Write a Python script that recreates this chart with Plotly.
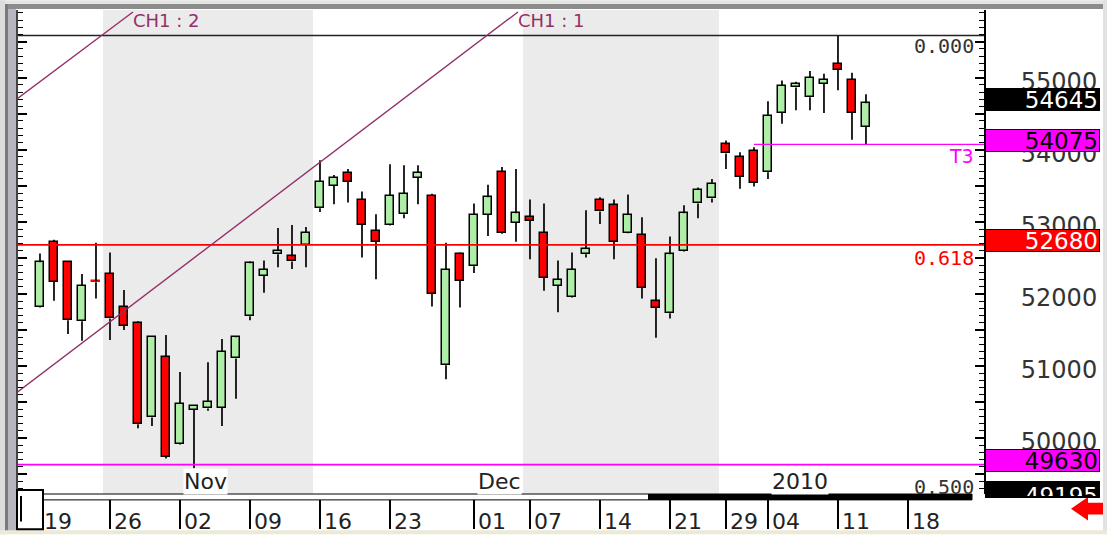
import plotly.graph_objects as go
import pandas as pd

# ---------------- data ----------------
dates = [
    '2009-10-19', '2009-10-20', '2009-10-21', '2009-10-22', '2009-10-23',
    '2009-10-26', '2009-10-27', '2009-10-28', '2009-10-29', '2009-10-30',
    '2009-11-02', '2009-11-03', '2009-11-04', '2009-11-05', '2009-11-06',
    '2009-11-09', '2009-11-10', '2009-11-11', '2009-11-12', '2009-11-13',
    '2009-11-16', '2009-11-17', '2009-11-18', '2009-11-19', '2009-11-20',
    '2009-11-23', '2009-11-24', '2009-11-25', '2009-11-26', '2009-11-27',
    '2009-11-30', '2009-12-01', '2009-12-02', '2009-12-03', '2009-12-04',
    '2009-12-07', '2009-12-08', '2009-12-09', '2009-12-10', '2009-12-11',
    '2009-12-14', '2009-12-15', '2009-12-16', '2009-12-17', '2009-12-18',
    '2009-12-21', '2009-12-22', '2009-12-23', '2009-12-24', '2009-12-29',
    '2009-12-30', '2009-12-31', '2010-01-04', '2010-01-05', '2010-01-06',
    '2010-01-07', '2010-01-08', '2010-01-11', '2010-01-12', '2010-01-13',
]
open_ = [51825, 52725, 52440, 51620, 52175, 52275, 51825, 51595, 50285, 51130,
         49920, 50395, 50410, 50420, 51105, 51690, 52250, 52550, 52520, 52685,
         53190, 53500, 53680, 53310, 52875, 52955, 53105, 53610, 53365, 51010,
         52550, 52385, 53095, 53690, 52985, 53065, 52845, 52110, 51960, 52550,
         53310, 53230, 52845, 52820, 51895, 51730, 52590, 53255, 53325, 54075,
         53895, 53990, 53690, 54510, 54865, 54730, 54920, 55190, 54975, 54320]
high = [52560, 52750, 52450, 52275, 52710, 52575, 52055, 51620, 51415, 51430,
        50915, 50450, 51050, 51375, 51415, 52450, 52465, 52915, 52955, 52930,
        53855, 53650, 53735, 53420, 53105, 53800, 53785, 53785, 53390, 52710,
        52575, 53255, 53515, 53760, 53735, 53310, 53255, 52465, 52575, 53160,
        53340, 53310, 53380, 53065, 52495, 52795, 53230, 53475, 53595, 54130,
        53965, 54035, 54675, 54960, 54945, 55095, 55055, 55586, 55070, 54770]
low = [51810, 51905, 51445, 51350, 51935, 51360, 51500, 50135, 50165, 49715,
       49910, 49580, 50380, 50165, 50545, 51635, 52015, 52370, 52345, 52370,
       53135, 53245, 53270, 52505, 52205, 52950, 53050, 53245, 51825, 50815,
       51810, 52290, 52805, 52835, 52725, 52480, 52045, 51745, 51950, 52505,
       52970, 52480, 52840, 51935, 51390, 51660, 52580, 53050, 53270, 53735,
       53460, 53490, 53595, 54360, 54550, 54550, 54510, 54825, 54140, 54075]
close = [52440, 52165, 51635, 52110, 52160, 51660, 51555, 50190, 51405, 49740,
         50475, 50445, 50505, 51200, 51400, 52425, 52330, 52600, 52450, 52845,
         53555, 53610, 53555, 52955, 52725, 53365, 53390, 53680, 52005, 52330,
         52180, 53095, 53340, 52845, 53120, 53010, 52220, 52195, 52330, 52630,
         53145, 52725, 53095, 52085, 51810, 52550, 53120, 53445, 53530, 53950,
         53625, 53540, 54470, 54890, 54920, 55000, 54975, 55110, 54510, 54645]

tick_dates = ['2009-10-19', '2009-10-26', '2009-11-02', '2009-11-09', '2009-11-16',
              '2009-11-23', '2009-12-01', '2009-12-07', '2009-12-14', '2009-12-21',
              '2009-12-29', '2010-01-04', '2010-01-11', '2010-01-18']
tick_labels = ['19', '26', '02', '09', '16', '23', '01', '07', '14', '21',
               '29', '04', '11', '18']
month_dates = ['2009-11-02', '2009-12-01', '2010-01-04']
month_labels = ['Nov', 'Dec', '2010']
band_starts = ['2009-10-26', '2009-12-07']
band_ends = ['2009-11-13', '2009-12-24']

price_ticks = [49500, 50000, 50500, 51000, 51500, 52000, 52500, 53000,
               53500, 54000, 54500, 55000, 55500]
price_tick_text = ['', '50000', '', '51000', '', '52000', '', '53000',
                   '', '54000', '', '55000', '']

fib_levels = [55586, 52680, 49195]
fib_labels = ['0.000', '0.618', '0.500']
fib_colors = ['#333333', '#ff0000', '#333333']
support_level = 49630
t3_level = 54075
t3_start = '2009-12-31'

# channel lines: two anchor points each (x in trading-day index, y in price)
ch1_x = [-1.6, 34.14]
ch1_y = [50640, 55913]
ch2_x = [-1.6, 6.64]
ch2_y = [54714, 55913]
channel_names = ['CH1 : 1', 'CH1 : 2']

tag_values = [54645, 54075, 52680, 49630, 49195]
tag_bg = ['#000000', '#ff00ff', '#ff0000', '#ff00ff', '#000000']
tag_fg = ['#ffffff', '#000000', '#ffffff', '#000000', '#ffffff']

# ---------------- index mapping ----------------
future = [d.strftime('%Y-%m-%d') for d in pd.bdate_range('2010-01-14', periods=12)]
all_days = dates + future
pos = {d: i for i, d in enumerate(all_days)}
idx = [pos[d] for d in dates]

X0, X1 = -1.571, 67.43
Y0, Y1 = 49223, 55940

W, H = 1107, 544
ML, MR, MT, MB = 18, 123, 10, 41
PW, PH = W - ML - MR, H - MT - MB


def px(x):
    return (x - ML) / PW


def py(y):
    return (H - MB - y) / PH


def vy(v):
    # price -> paper y (for items whose anchor lies outside the axis range)
    return (v - Y0) / (Y1 - Y0)


GREEN = '#aeeea6'
RED = '#ff0000'
CHC = '#93306a'
MAG = '#ff00ff'

fig = go.Figure()

# wicks (upper and lower parts so they do not cross bodies)
wx, wy = [], []
for i, o, h, l, c in zip(idx, open_, high, low, close):
    top, bot = max(o, c), min(o, c)
    wx += [i, i, None, i, i, None]
    wy += [h, top, None, bot, l, None]
fig.add_trace(go.Scatter(x=wx, y=wy, mode='lines', line=dict(color='black', width=1.7),
                         hoverinfo='skip', showlegend=False))

body_col = [GREEN if c >= o else RED for o, c in zip(open_, close)]
edge_col = [('black' if abs(c - o) > 30 else bc) for o, c, bc in zip(open_, close, body_col)]
fig.add_trace(go.Bar(
    x=idx, y=[max(abs(c - o), 12) for o, c in zip(open_, close)],
    base=[min(o, c) for o, c in zip(open_, close)], width=0.55,
    marker=dict(color=body_col, line=dict(color=edge_col, width=1.5)),
    showlegend=False, hoverinfo='skip'))

# horizontal levels
fig.add_trace(go.Scatter(x=[X0, X1], y=[fib_levels[0]] * 2, mode='lines',
                         line=dict(color='#222222', width=1.6), showlegend=False, hoverinfo='skip'))
fig.add_trace(go.Scatter(x=[X0, X1], y=[fib_levels[1]] * 2, mode='lines',
                         line=dict(color=RED, width=1.6), showlegend=False, hoverinfo='skip'))
fig.add_trace(go.Scatter(x=[X0, X1], y=[support_level] * 2, mode='lines',
                         line=dict(color=MAG, width=1.6), showlegend=False, hoverinfo='skip'))
fig.add_trace(go.Scatter(x=[pos[t3_start], X1], y=[t3_level] * 2, mode='lines',
                         line=dict(color=MAG, width=1.4), showlegend=False, hoverinfo='skip'))

# channel lines
for cx, cy in [(ch1_x, ch1_y), (ch2_x, ch2_y)]:
    fig.add_trace(go.Scatter(x=cx, y=cy, mode='lines', line=dict(color=CHC, width=1.4),
                             showlegend=False, hoverinfo='skip'))

fig.add_trace(go.Scatter(x=[None], y=[None], yaxis='y2', showlegend=False))

annotations = []
for (cx, cy), name in zip([(ch1_x, ch1_y), (ch2_x, ch2_y)], channel_names):
    annotations.append(dict(x=cx[1], y=cy[1], xref='x', yref='y', text=name, showarrow=False,
                            xanchor='left', yanchor='top', xshift=-2, yshift=4,
                            font=dict(family='DejaVu Sans', size=18, color=CHC)))

fib_shift = [3, 0, 22]
for lv, lab, col, sh in zip(fib_levels, fib_labels, fib_colors, fib_shift):
    annotations.append(dict(x=1, xref='paper', y=vy(lv), yref='paper', text=lab, showarrow=False,
                            xanchor='right', yanchor='top', xshift=-8, yshift=1 + sh,
                            font=dict(family='DejaVu Sans Mono', size=20, color=col)))

annotations.append(dict(x=1, xref='paper', y=t3_level, yref='y', text='T3', showarrow=False,
                        xanchor='right', yanchor='top', xshift=-8, yshift=1,
                        font=dict(family='DejaVu Sans', size=19, color=MAG)))

for d, lab in zip(month_dates, month_labels):
    annotations.append(dict(x=pos[d], xref='x', y=py(490), yref='paper', text=lab,
                            showarrow=False, xanchor='left', yanchor='middle', xshift=3,
                            bgcolor='white', borderpad=0,
                            font=dict(family='DejaVu Sans', size=22, color='#222222')))

for v, bg, fg in zip(tag_values, tag_bg, tag_fg):
    last = v == tag_values[-1]
    annotations.append(dict(x=px(985), xref='paper', y=vy(v), yref='paper', text=str(v),
                            showarrow=False, xanchor='left',
                            yanchor='middle' if not last else 'bottom',
                            yshift=4 if not last else -2,
                            width=111, height=19 if not last else 13, align='right',
                            valign='middle' if not last else 'top',
                            bgcolor=bg, bordercolor='black', borderwidth=1, borderpad=1,
                            font=dict(family='DejaVu Sans', size=23, color=fg)))

shapes = []
for s, e in zip(band_starts, band_ends):
    shapes.append(dict(type='rect', xref='x', yref='paper', x0=pos[s] - 0.5, x1=pos[e] + 0.5,
                       y0=0, y1=1, fillcolor='#ebebeb', line=dict(width=0), layer='below'))


# window frame / decorations
def rect(x0, y0, x1, y1, fill, line=None, lw=0):
    return dict(type='rect', xref='paper', yref='paper', x0=px(x0), x1=px(x1),
                y0=py(y1), y1=py(y0), fillcolor=fill,
                line=dict(color=line or fill, width=lw), layer='above')


shapes += [
    rect(0, 0, 1107, 4, '#e4e4e4'),
    rect(0, 4, 1104, 9, '#8c8c8c'),
    rect(0, 0, 5, 544, '#dcdcdc'),
    rect(5, 4, 8, 541, '#7a7a7a'),
    rect(8, 9, 16, 541, '#b6b6be'),
    rect(1103, 0, 1107, 544, '#e2e2e2'),
    rect(0, 540, 1107, 544, '#ece9d8'),
    rect(43, 503, 972, 509, 'white', 'black', 1),
    rect(648, 503, 972, 509, 'black'),
    rect(17, 499, 43, 539, 'white', 'black', 2),
]
shapes.append(dict(type='line', xref='paper', yref='paper', x0=px(21), x1=px(21),
                   y0=py(505), y1=py(531), line=dict(color='black', width=2), layer='above'))
arrow = 'M {},{} L {},{} L {},{} L {},{} L {},{} L {},{} L {},{} Z'.format(
    px(1071), py(518), px(1088), py(506), px(1088), py(512), px(1103), py(512),
    px(1103), py(524), px(1088), py(524), px(1088), py(530))
shapes.append(dict(type='path', xref='paper', yref='paper', path=arrow,
                   fillcolor='#ff0000', line=dict(color='#ff0000', width=0), layer='above'))

fig.update_layout(
    width=W, height=H,
    margin=dict(l=ML, r=MR, t=MT, b=MB, pad=0),
    paper_bgcolor='white', plot_bgcolor='white',
    showlegend=False, bargap=0,
    xaxis=dict(range=[X0, X1], tickmode='array',
               tickvals=[pos[d] for d in tick_dates], ticktext=tick_labels,
               ticks='outside', ticklen=34, tickwidth=1.6, tickcolor='black',
               showgrid=False, zeroline=False, showline=False,
               ticklabelshift=18, ticklabelstandoff=-26,
               tickfont=dict(family='DejaVu Sans', size=22, color='#222222')),
    yaxis=dict(range=[Y0, Y1], side='right', tickmode='array',
               tickvals=price_ticks, ticktext=price_tick_text,
               ticks='inside', ticklen=9, tickwidth=1.5, tickcolor='black',
               minor=dict(dtick=100, ticks='inside', ticklen=5, tickwidth=1, tickcolor='black'),
               showline=True, linecolor='black', linewidth=2,
               showgrid=False, zeroline=False,
               ticklabelstandoff=30, ticklabelshift=4,
               tickfont=dict(family='DejaVu Sans', size=24, color='#333333')),
    yaxis2=dict(range=[Y0, Y1], overlaying='y', side='left', tickmode='array',
                tickvals=price_ticks, showticklabels=False,
                ticks='inside', ticklen=9, tickwidth=1.5, tickcolor='black',
                minor=dict(dtick=100, ticks='inside', ticklen=5, tickwidth=1, tickcolor='black'),
                showline=True, linecolor='#444444', linewidth=1.5,
                showgrid=False, zeroline=False),
    annotations=annotations,
    shapes=shapes,
)

fig.write_html(
    'out.html',
    config={'displayModeBar': False, 'responsive': False},
    post_script=("document.documentElement.style.margin='0px';"
                 "document.body.style.margin='0px';"
                 "document.documentElement.style.overflow='hidden';"
                 "document.body.style.overflow='hidden';"),
)
